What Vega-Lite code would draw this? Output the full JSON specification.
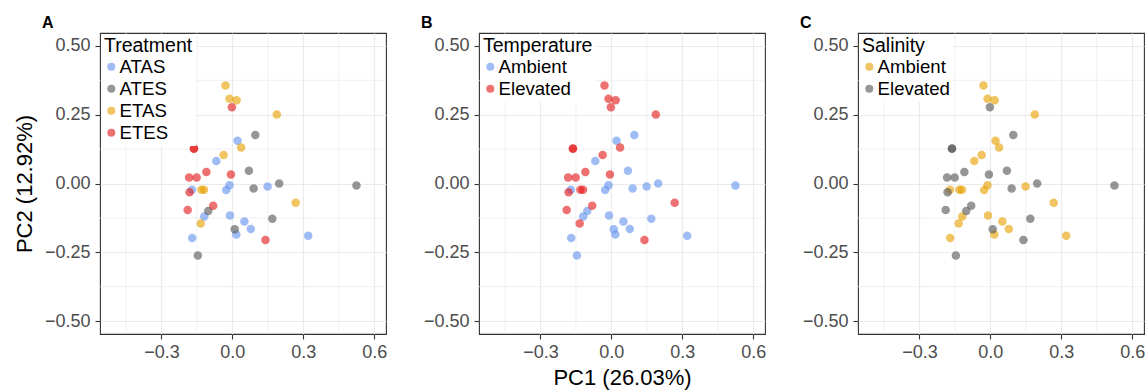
{
  "$schema": "https://vega.github.io/schema/vega-lite/v6.json",
  "padding": {"top": 14, "left": 12, "right": 2, "bottom": 4},
  "datasets": {
    "pts": [
      {"x": 0.022, "y": 0.155, "treatment": "ATAS", "temperature": "Ambient", "salinity": "Ambient"},
      {"x": -0.068, "y": 0.082, "treatment": "ATAS", "temperature": "Ambient", "salinity": "Ambient"},
      {"x": -0.012, "y": -0.006, "treatment": "ATAS", "temperature": "Ambient", "salinity": "Ambient"},
      {"x": -0.026, "y": -0.024, "treatment": "ATAS", "temperature": "Ambient", "salinity": "Ambient"},
      {"x": -0.171, "y": -0.023, "treatment": "ATAS", "temperature": "Ambient", "salinity": "Ambient"},
      {"x": 0.149, "y": -0.011, "treatment": "ATAS", "temperature": "Ambient", "salinity": "Ambient"},
      {"x": -0.010, "y": -0.116, "treatment": "ATAS", "temperature": "Ambient", "salinity": "Ambient"},
      {"x": -0.119, "y": -0.120, "treatment": "ATAS", "temperature": "Ambient", "salinity": "Ambient"},
      {"x": 0.051, "y": -0.138, "treatment": "ATAS", "temperature": "Ambient", "salinity": "Ambient"},
      {"x": 0.078, "y": -0.165, "treatment": "ATAS", "temperature": "Ambient", "salinity": "Ambient"},
      {"x": 0.017, "y": -0.185, "treatment": "ATAS", "temperature": "Ambient", "salinity": "Ambient"},
      {"x": -0.170, "y": -0.198, "treatment": "ATAS", "temperature": "Ambient", "salinity": "Ambient"},
      {"x": 0.321, "y": -0.190, "treatment": "ATAS", "temperature": "Ambient", "salinity": "Ambient"},
      {"x": 0.097, "y": 0.176, "treatment": "ATES", "temperature": "Ambient", "salinity": "Elevated"},
      {"x": 0.070, "y": 0.046, "treatment": "ATES", "temperature": "Ambient", "salinity": "Elevated"},
      {"x": 0.090, "y": -0.018, "treatment": "ATES", "temperature": "Ambient", "salinity": "Elevated"},
      {"x": 0.198, "y": 0.000, "treatment": "ATES", "temperature": "Ambient", "salinity": "Elevated"},
      {"x": 0.525, "y": -0.007, "treatment": "ATES", "temperature": "Ambient", "salinity": "Elevated"},
      {"x": -0.102, "y": -0.100, "treatment": "ATES", "temperature": "Ambient", "salinity": "Elevated"},
      {"x": 0.169, "y": -0.128, "treatment": "ATES", "temperature": "Ambient", "salinity": "Elevated"},
      {"x": 0.010, "y": -0.166, "treatment": "ATES", "temperature": "Ambient", "salinity": "Elevated"},
      {"x": -0.146, "y": -0.262, "treatment": "ATES", "temperature": "Ambient", "salinity": "Elevated"},
      {"x": -0.029, "y": 0.356, "treatment": "ETAS", "temperature": "Elevated", "salinity": "Ambient"},
      {"x": -0.012, "y": 0.308, "treatment": "ETAS", "temperature": "Elevated", "salinity": "Ambient"},
      {"x": 0.018, "y": 0.303, "treatment": "ETAS", "temperature": "Elevated", "salinity": "Ambient"},
      {"x": 0.188, "y": 0.251, "treatment": "ETAS", "temperature": "Elevated", "salinity": "Ambient"},
      {"x": 0.037, "y": 0.131, "treatment": "ETAS", "temperature": "Elevated", "salinity": "Ambient"},
      {"x": -0.037, "y": 0.104, "treatment": "ETAS", "temperature": "Elevated", "salinity": "Ambient"},
      {"x": -0.131, "y": -0.023, "treatment": "ETAS", "temperature": "Elevated", "salinity": "Ambient"},
      {"x": -0.120, "y": -0.023, "treatment": "ETAS", "temperature": "Elevated", "salinity": "Ambient"},
      {"x": 0.268, "y": -0.070, "treatment": "ETAS", "temperature": "Elevated", "salinity": "Ambient"},
      {"x": -0.134, "y": -0.145, "treatment": "ETAS", "temperature": "Elevated", "salinity": "Ambient"},
      {"x": -0.002, "y": 0.277, "treatment": "ETES", "temperature": "Elevated", "salinity": "Elevated"},
      {"x": -0.162, "y": 0.127, "treatment": "ETES", "temperature": "Elevated", "salinity": "Elevated"},
      {"x": -0.163, "y": 0.126, "treatment": "ETES", "temperature": "Elevated", "salinity": "Elevated"},
      {"x": -0.183, "y": 0.022, "treatment": "ETES", "temperature": "Elevated", "salinity": "Elevated"},
      {"x": -0.151, "y": 0.022, "treatment": "ETES", "temperature": "Elevated", "salinity": "Elevated"},
      {"x": -0.110, "y": 0.042, "treatment": "ETES", "temperature": "Elevated", "salinity": "Elevated"},
      {"x": -0.006, "y": 0.033, "treatment": "ETES", "temperature": "Elevated", "salinity": "Elevated"},
      {"x": -0.181, "y": -0.032, "treatment": "ETES", "temperature": "Elevated", "salinity": "Elevated"},
      {"x": -0.189, "y": -0.096, "treatment": "ETES", "temperature": "Elevated", "salinity": "Elevated"},
      {"x": -0.081, "y": -0.081, "treatment": "ETES", "temperature": "Elevated", "salinity": "Elevated"},
      {"x": 0.140, "y": -0.205, "treatment": "ETES", "temperature": "Elevated", "salinity": "Elevated"}
    ],
    "xminor": [{"v": -0.45}, {"v": -0.15}, {"v": 0.15}, {"v": 0.45}],
    "yminor": [{"v": -0.375}, {"v": -0.125}, {"v": 0.125}, {"v": 0.375}]
  },
  "bounds": "flush",
  "spacing": 93,
  "hconcat": [
    {
      "title": "A",
      "width": 286, "height": 301,
      "layer": [
        {"data": {"name": "xminor"}, "mark": {"type": "rule", "color": "#EBEBEB", "strokeWidth": 0.7},
         "encoding": {"x": {"field": "v", "type": "quantitative", "scale": {"domain": [-0.56, 0.65], "nice": false, "zero": false}, "axis": {"values": [-0.3, 0, 0.3, 0.6], "format": ".1f", "title": null}}}},
        {"data": {"name": "yminor"}, "mark": {"type": "rule", "color": "#EBEBEB", "strokeWidth": 0.7},
         "encoding": {"y": {"field": "v", "type": "quantitative", "scale": {"domain": [-0.547, 0.547], "nice": false, "zero": false}, "axis": {"values": [-0.5, -0.25, 0, 0.25, 0.5], "format": ".2f", "title": "PC2 (12.92%)"}}}},
        {"data": {"name": "pts"}, "mark": {"type": "point", "filled": true, "size": 72, "opacity": 0.62},
         "encoding": {
           "x": {"field": "x", "type": "quantitative", "scale": {"domain": [-0.56, 0.65], "nice": false, "zero": false}, "axis": {"values": [-0.3, 0, 0.3, 0.6], "format": ".1f", "title": null}},
           "y": {"field": "y", "type": "quantitative", "scale": {"domain": [-0.547, 0.547], "nice": false, "zero": false}, "axis": {"values": [-0.5, -0.25, 0, 0.25, 0.5], "format": ".2f", "title": "PC2 (12.92%)"}},
           "color": {"field": "treatment", "type": "nominal", "title": "Treatment", "scale": {"domain": ["ATAS", "ATES", "ETAS", "ETES"], "range": ["#6495ED", "#555555", "#E69F00", "#E41A1C"]}}
         }}
      ]
    },
    {
      "title": "B",
      "width": 286, "height": 301,
      "layer": [
        {"data": {"name": "xminor"}, "mark": {"type": "rule", "color": "#EBEBEB", "strokeWidth": 0.7},
         "encoding": {"x": {"field": "v", "type": "quantitative", "scale": {"domain": [-0.56, 0.65], "nice": false, "zero": false}, "axis": {"values": [-0.3, 0, 0.3, 0.6], "format": ".1f", "title": "PC1 (26.03%)"}}}},
        {"data": {"name": "yminor"}, "mark": {"type": "rule", "color": "#EBEBEB", "strokeWidth": 0.7},
         "encoding": {"y": {"field": "v", "type": "quantitative", "scale": {"domain": [-0.547, 0.547], "nice": false, "zero": false}, "axis": {"values": [-0.5, -0.25, 0, 0.25, 0.5], "format": ".2f", "title": null}}}},
        {"data": {"name": "pts"}, "mark": {"type": "point", "filled": true, "size": 72, "opacity": 0.62},
         "encoding": {
           "x": {"field": "x", "type": "quantitative", "scale": {"domain": [-0.56, 0.65], "nice": false, "zero": false}, "axis": {"values": [-0.3, 0, 0.3, 0.6], "format": ".1f", "title": "PC1 (26.03%)"}},
           "y": {"field": "y", "type": "quantitative", "scale": {"domain": [-0.547, 0.547], "nice": false, "zero": false}, "axis": {"values": [-0.5, -0.25, 0, 0.25, 0.5], "format": ".2f", "title": null}},
           "color": {"field": "temperature", "type": "nominal", "title": "Temperature", "scale": {"domain": ["Ambient", "Elevated"], "range": ["#6495ED", "#E41A1C"]}}
         }}
      ]
    },
    {
      "title": "C",
      "width": 286, "height": 301,
      "layer": [
        {"data": {"name": "xminor"}, "mark": {"type": "rule", "color": "#EBEBEB", "strokeWidth": 0.7},
         "encoding": {"x": {"field": "v", "type": "quantitative", "scale": {"domain": [-0.56, 0.65], "nice": false, "zero": false}, "axis": {"values": [-0.3, 0, 0.3, 0.6], "format": ".1f", "title": null}}}},
        {"data": {"name": "yminor"}, "mark": {"type": "rule", "color": "#EBEBEB", "strokeWidth": 0.7},
         "encoding": {"y": {"field": "v", "type": "quantitative", "scale": {"domain": [-0.547, 0.547], "nice": false, "zero": false}, "axis": {"values": [-0.5, -0.25, 0, 0.25, 0.5], "format": ".2f", "title": null}}}},
        {"data": {"name": "pts"}, "mark": {"type": "point", "filled": true, "size": 72, "opacity": 0.62},
         "encoding": {
           "x": {"field": "x", "type": "quantitative", "scale": {"domain": [-0.56, 0.65], "nice": false, "zero": false}, "axis": {"values": [-0.3, 0, 0.3, 0.6], "format": ".1f", "title": null}},
           "y": {"field": "y", "type": "quantitative", "scale": {"domain": [-0.547, 0.547], "nice": false, "zero": false}, "axis": {"values": [-0.5, -0.25, 0, 0.25, 0.5], "format": ".2f", "title": null}},
           "color": {"field": "salinity", "type": "nominal", "title": "Salinity", "scale": {"domain": ["Ambient", "Elevated"], "range": ["#E69F00", "#555555"]}}
         }}
      ]
    }
  ],
  "resolve": {"scale": {"color": "independent"}, "legend": {"color": "independent"}},
  "config": {
    "font": "Liberation Sans",
    "view": {"stroke": "#333333", "strokeWidth": 1.1},
    "axis": {"grid": true, "gridColor": "#EBEBEB", "gridWidth": 1.2, "domain": false, "tickColor": "#333333", "tickSize": 5, "tickWidth": 1.1, "labelColor": "#4D4D4D", "labelFontSize": 18, "titleFontSize": 22, "titleFontWeight": "normal", "titleColor": "black"},
    "axisX": {"labelPadding": 4, "titlePadding": 6},
    "axisY": {"labelPadding": 5, "titlePadding": 8},
    "legend": {"orient": "top-left", "offset": 1, "fillColor": "white", "padding": 3, "titleFontSize": 19.5, "titleFontWeight": "normal", "titleColor": "black", "titlePadding": 1, "labelFontSize": 18.6, "labelColor": "black", "symbolType": "circle", "symbolSize": 64, "symbolOpacity": 0.62, "symbolStrokeWidth": 0, "symbolOffset": -2, "labelOffset": -1, "rowPadding": 3},
    "title": {"fontSize": 16, "fontWeight": "bold", "anchor": "start", "frame": "group", "dx": -58, "offset": 2, "color": "black"}
  }
}
